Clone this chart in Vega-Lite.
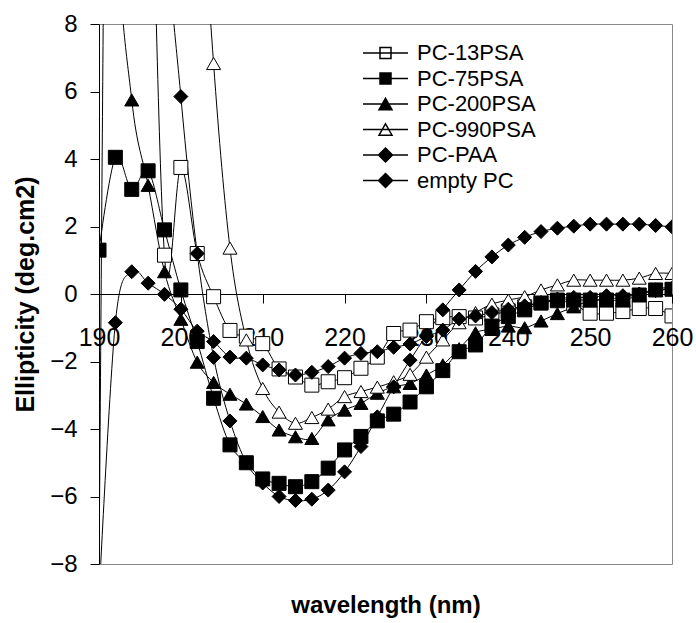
{
  "$schema": "https://vega.github.io/schema/vega-lite/v6.json",
  "width": 573,
  "height": 540,
  "autosize": "none",
  "padding": {"left": 99, "top": 24, "right": 24, "bottom": 59},
  "background": "white",
  "config": {"font": "Liberation Sans", "view": {"stroke": "#888888", "strokeWidth": 1}},
  "datasets": {
    "cd": [
      {"s":"PC-13PSA","x":190,"y":-8.5},{"s":"PC-13PSA","x":192,"y":45},{"s":"PC-13PSA","x":194,"y":40},{"s":"PC-13PSA","x":196,"y":18},{"s":"PC-13PSA","x":198,"y":1.15},{"s":"PC-13PSA","x":200,"y":3.75},{"s":"PC-13PSA","x":202,"y":1.2},{"s":"PC-13PSA","x":204,"y":-0.08},{"s":"PC-13PSA","x":206,"y":-1.08},{"s":"PC-13PSA","x":208,"y":-1.25},{"s":"PC-13PSA","x":210,"y":-1.47},{"s":"PC-13PSA","x":212,"y":-2.22},{"s":"PC-13PSA","x":214,"y":-2.46},{"s":"PC-13PSA","x":216,"y":-2.7},{"s":"PC-13PSA","x":218,"y":-2.6},{"s":"PC-13PSA","x":220,"y":-2.48},{"s":"PC-13PSA","x":222,"y":-2.2},{"s":"PC-13PSA","x":224,"y":-1.87},{"s":"PC-13PSA","x":226,"y":-1.17},{"s":"PC-13PSA","x":228,"y":-1.07},{"s":"PC-13PSA","x":230,"y":-0.82},{"s":"PC-13PSA","x":232,"y":-0.7},{"s":"PC-13PSA","x":234,"y":-0.67},{"s":"PC-13PSA","x":236,"y":-0.71},{"s":"PC-13PSA","x":238,"y":-0.62},{"s":"PC-13PSA","x":240,"y":-0.5},{"s":"PC-13PSA","x":242,"y":-0.38},{"s":"PC-13PSA","x":244,"y":-0.25},{"s":"PC-13PSA","x":246,"y":-0.2},{"s":"PC-13PSA","x":248,"y":-0.3},{"s":"PC-13PSA","x":250,"y":-0.57},{"s":"PC-13PSA","x":252,"y":-0.57},{"s":"PC-13PSA","x":254,"y":-0.52},{"s":"PC-13PSA","x":256,"y":-0.43},{"s":"PC-13PSA","x":258,"y":-0.43},{"s":"PC-13PSA","x":260,"y":-0.65},

      {"s":"PC-75PSA","x":190,"y":1.3},{"s":"PC-75PSA","x":192,"y":4.05},{"s":"PC-75PSA","x":194,"y":3.1},{"s":"PC-75PSA","x":196,"y":3.65},{"s":"PC-75PSA","x":198,"y":1.9},{"s":"PC-75PSA","x":200,"y":0.12},{"s":"PC-75PSA","x":202,"y":-1.41},{"s":"PC-75PSA","x":204,"y":-3.09},{"s":"PC-75PSA","x":206,"y":-4.47},{"s":"PC-75PSA","x":208,"y":-5.0},{"s":"PC-75PSA","x":210,"y":-5.48},{"s":"PC-75PSA","x":212,"y":-5.61},{"s":"PC-75PSA","x":214,"y":-5.71},{"s":"PC-75PSA","x":216,"y":-5.56},{"s":"PC-75PSA","x":218,"y":-5.16},{"s":"PC-75PSA","x":220,"y":-4.62},{"s":"PC-75PSA","x":222,"y":-4.22},{"s":"PC-75PSA","x":224,"y":-3.76},{"s":"PC-75PSA","x":226,"y":-3.56},{"s":"PC-75PSA","x":228,"y":-3.2},{"s":"PC-75PSA","x":230,"y":-2.75},{"s":"PC-75PSA","x":232,"y":-2.27},{"s":"PC-75PSA","x":234,"y":-1.71},{"s":"PC-75PSA","x":236,"y":-1.51},{"s":"PC-75PSA","x":238,"y":-0.95},{"s":"PC-75PSA","x":240,"y":-0.67},{"s":"PC-75PSA","x":242,"y":-0.47},{"s":"PC-75PSA","x":244,"y":-0.27},{"s":"PC-75PSA","x":246,"y":-0.18},{"s":"PC-75PSA","x":248,"y":-0.18},{"s":"PC-75PSA","x":250,"y":-0.18},{"s":"PC-75PSA","x":252,"y":-0.18},{"s":"PC-75PSA","x":254,"y":-0.18},{"s":"PC-75PSA","x":256,"y":-0.03},{"s":"PC-75PSA","x":258,"y":0.12},{"s":"PC-75PSA","x":260,"y":0.14},

      {"s":"PC-200PSA","x":190,"y":30},{"s":"PC-200PSA","x":192,"y":12},{"s":"PC-200PSA","x":194,"y":5.75},{"s":"PC-200PSA","x":196,"y":3.22},{"s":"PC-200PSA","x":198,"y":0.66},{"s":"PC-200PSA","x":200,"y":-0.75},{"s":"PC-200PSA","x":202,"y":-2.02},{"s":"PC-200PSA","x":204,"y":-2.62},{"s":"PC-200PSA","x":206,"y":-2.97},{"s":"PC-200PSA","x":208,"y":-3.26},{"s":"PC-200PSA","x":210,"y":-3.63},{"s":"PC-200PSA","x":212,"y":-4.03},{"s":"PC-200PSA","x":214,"y":-4.23},{"s":"PC-200PSA","x":216,"y":-4.28},{"s":"PC-200PSA","x":218,"y":-3.73},{"s":"PC-200PSA","x":220,"y":-3.44},{"s":"PC-200PSA","x":222,"y":-3.24},{"s":"PC-200PSA","x":224,"y":-2.94},{"s":"PC-200PSA","x":226,"y":-2.75},{"s":"PC-200PSA","x":228,"y":-2.65},{"s":"PC-200PSA","x":230,"y":-2.4},{"s":"PC-200PSA","x":232,"y":-2.1},{"s":"PC-200PSA","x":234,"y":-1.62},{"s":"PC-200PSA","x":236,"y":-1.15},{"s":"PC-200PSA","x":238,"y":-1.05},{"s":"PC-200PSA","x":240,"y":-0.95},{"s":"PC-200PSA","x":242,"y":-1.0},{"s":"PC-200PSA","x":244,"y":-0.8},{"s":"PC-200PSA","x":246,"y":-0.58},{"s":"PC-200PSA","x":248,"y":-0.38},{"s":"PC-200PSA","x":250,"y":-0.2},{"s":"PC-200PSA","x":252,"y":-0.15},{"s":"PC-200PSA","x":254,"y":-0.1},{"s":"PC-200PSA","x":256,"y":0.0},{"s":"PC-200PSA","x":258,"y":0.15},{"s":"PC-200PSA","x":260,"y":0.2},

      {"s":"PC-990PSA","x":196,"y":40},{"s":"PC-990PSA","x":198,"y":38},{"s":"PC-990PSA","x":200,"y":30},{"s":"PC-990PSA","x":202,"y":15},{"s":"PC-990PSA","x":204,"y":6.83},{"s":"PC-990PSA","x":206,"y":1.36},{"s":"PC-990PSA","x":208,"y":-1.36},{"s":"PC-990PSA","x":210,"y":-2.8},{"s":"PC-990PSA","x":212,"y":-3.5},{"s":"PC-990PSA","x":214,"y":-3.83},{"s":"PC-990PSA","x":216,"y":-3.66},{"s":"PC-990PSA","x":218,"y":-3.41},{"s":"PC-990PSA","x":220,"y":-3.04},{"s":"PC-990PSA","x":222,"y":-2.89},{"s":"PC-990PSA","x":224,"y":-2.76},{"s":"PC-990PSA","x":226,"y":-2.6},{"s":"PC-990PSA","x":228,"y":-2.38},{"s":"PC-990PSA","x":230,"y":-1.87},{"s":"PC-990PSA","x":232,"y":-1.36},{"s":"PC-990PSA","x":234,"y":-0.85},{"s":"PC-990PSA","x":236,"y":-0.55},{"s":"PC-990PSA","x":238,"y":-0.3},{"s":"PC-990PSA","x":240,"y":-0.18},{"s":"PC-990PSA","x":242,"y":-0.08},{"s":"PC-990PSA","x":244,"y":0.12},{"s":"PC-990PSA","x":246,"y":0.27},{"s":"PC-990PSA","x":248,"y":0.41},{"s":"PC-990PSA","x":250,"y":0.41},{"s":"PC-990PSA","x":252,"y":0.41},{"s":"PC-990PSA","x":254,"y":0.41},{"s":"PC-990PSA","x":256,"y":0.47},{"s":"PC-990PSA","x":258,"y":0.61},{"s":"PC-990PSA","x":260,"y":0.61},

      {"s":"PC-PAA","x":194,"y":40},{"s":"PC-PAA","x":196,"y":25},{"s":"PC-PAA","x":198,"y":12},{"s":"PC-PAA","x":200,"y":5.85},{"s":"PC-PAA","x":202,"y":1.2},{"s":"PC-PAA","x":204,"y":-1.88},{"s":"PC-PAA","x":206,"y":-3.76},{"s":"PC-PAA","x":208,"y":-5.0},{"s":"PC-PAA","x":210,"y":-5.6},{"s":"PC-PAA","x":212,"y":-6.0},{"s":"PC-PAA","x":214,"y":-6.12},{"s":"PC-PAA","x":216,"y":-6.08},{"s":"PC-PAA","x":218,"y":-5.81},{"s":"PC-PAA","x":220,"y":-5.27},{"s":"PC-PAA","x":222,"y":-4.52},{"s":"PC-PAA","x":224,"y":-3.64},{"s":"PC-PAA","x":226,"y":-2.75},{"s":"PC-PAA","x":228,"y":-1.96},{"s":"PC-PAA","x":230,"y":-1.22},{"s":"PC-PAA","x":232,"y":-0.47},{"s":"PC-PAA","x":234,"y":0.12},{"s":"PC-PAA","x":236,"y":0.67},{"s":"PC-PAA","x":238,"y":1.1},{"s":"PC-PAA","x":240,"y":1.45},{"s":"PC-PAA","x":242,"y":1.68},{"s":"PC-PAA","x":244,"y":1.85},{"s":"PC-PAA","x":246,"y":1.95},{"s":"PC-PAA","x":248,"y":2.01},{"s":"PC-PAA","x":250,"y":2.07},{"s":"PC-PAA","x":252,"y":2.07},{"s":"PC-PAA","x":254,"y":2.07},{"s":"PC-PAA","x":256,"y":2.07},{"s":"PC-PAA","x":258,"y":2.03},{"s":"PC-PAA","x":260,"y":1.99},

      {"s":"empty PC","x":190,"y":-9},{"s":"empty PC","x":192,"y":-0.85},{"s":"empty PC","x":194,"y":0.66},{"s":"empty PC","x":196,"y":0.32},{"s":"empty PC","x":198,"y":-0.01},{"s":"empty PC","x":200,"y":-0.45},{"s":"empty PC","x":202,"y":-1.1},{"s":"empty PC","x":204,"y":-1.41},{"s":"empty PC","x":206,"y":-1.87},{"s":"empty PC","x":208,"y":-1.9},{"s":"empty PC","x":210,"y":-2.1},{"s":"empty PC","x":212,"y":-2.25},{"s":"empty PC","x":214,"y":-2.4},{"s":"empty PC","x":216,"y":-2.32},{"s":"empty PC","x":218,"y":-2.15},{"s":"empty PC","x":220,"y":-1.9},{"s":"empty PC","x":222,"y":-1.76},{"s":"empty PC","x":224,"y":-1.71},{"s":"empty PC","x":226,"y":-1.58},{"s":"empty PC","x":228,"y":-1.48},{"s":"empty PC","x":230,"y":-1.26},{"s":"empty PC","x":232,"y":-1.07},{"s":"empty PC","x":234,"y":-0.74},{"s":"empty PC","x":236,"y":-0.65},{"s":"empty PC","x":238,"y":-0.55},{"s":"empty PC","x":240,"y":-0.45},{"s":"empty PC","x":242,"y":-0.35},{"s":"empty PC","x":244,"y":-0.25},{"s":"empty PC","x":246,"y":-0.15},{"s":"empty PC","x":248,"y":-0.1},{"s":"empty PC","x":250,"y":-0.1},{"s":"empty PC","x":252,"y":-0.05},{"s":"empty PC","x":254,"y":-0.05},{"s":"empty PC","x":256,"y":0.0},{"s":"empty PC","x":258,"y":0.1},{"s":"empty PC","x":260,"y":0.15}
    ]
  },
  "data": {"name": "cd"},
  "encoding": {
    "x": {
      "field": "x", "type": "quantitative",
      "scale": {"domain": [190, 260], "nice": false, "zero": false},
      "axis": {
        "values": [190, 200, 210, 220, 230, 240, 250, 260],
        "offset": -270, "tickSize": 9, "labelPadding": 22, "labelFontSize": 25,
        "labelColor": "black", "domainColor": "black", "tickColor": "black",
        "labelFlush": false, "labelOverlap": false, "grid": false,
        "title": "wavelength (nm)", "titleFontSize": 24, "titleFontWeight": "bold", "titleColor": "black",
        "titleX": 286.5, "titleY": 311, "titleBaseline": "middle"
      }
    },
    "y": {
      "field": "y", "type": "quantitative",
      "scale": {"domain": [-8, 8], "nice": false, "zero": false},
      "axis": {
        "values": [-8, -6, -4, -2, 0, 2, 4, 6, 8],
        "tickSize": 9, "labelPadding": 13, "labelFontSize": 24,
        "labelColor": "black", "domainColor": "black", "tickColor": "black",
        "labelFlush": false, "labelOverlap": false, "grid": false,
        "title": "Ellipticity (deg.cm2)", "titleFontSize": 25, "titleFontWeight": "bold", "titleColor": "black",
        "titleX": -74, "titleY": 270, "titleAngle": -90, "titleBaseline": "middle", "titleAlign": "center"
      }
    }
  },
  "layer": [
    {
      "mark": {"type": "line", "color": "black", "strokeWidth": 1, "interpolate": "cardinal", "clip": true},
      "encoding": {"detail": {"field": "s"}}
    },
    {
      "mark": {"type": "point", "filled": true, "stroke": "black", "strokeWidth": 1, "opacity": 1, "size": 196, "clip": true},
      "encoding": {
        "shape": {
          "field": "s", "type": "nominal",
          "scale": {"domain": ["PC-13PSA", "PC-75PSA", "PC-200PSA", "PC-990PSA", "PC-PAA", "empty PC"],
                    "range": ["square", "square", "triangle-up", "triangle-up", "diamond", "diamond"]},
          "legend": null
        },
        "fill": {
          "field": "s", "type": "nominal",
          "scale": {"domain": ["PC-13PSA", "PC-75PSA", "PC-200PSA", "PC-990PSA", "PC-PAA", "empty PC"],
                    "range": ["white", "black", "black", "white", "black", "black"]},
          "legend": null
        }
      }
    },
    {
      "transform": [{"filter": "false"}],
      "mark": {"type": "point", "filled": true, "stroke": "black", "strokeWidth": 1, "opacity": 1, "size": 100},
      "encoding": {
        "shape": {
          "field": "s", "type": "nominal",
          "scale": {"domain": ["PC-13PSA", "PC-75PSA", "PC-200PSA", "PC-990PSA", "PC-PAA", "empty PC"],
                    "range": ["M-8,0H1M-4.6,-1.1H-2.4V1.1H-4.6Z", "M-8,0H1M-4.6,-1.1H-2.4V1.1H-4.6Z",
                              "M-8,0H1M-3.5,-1.13L-2.2,1.13L-4.8,1.13Z", "M-8,0H1M-3.5,-1.13L-2.2,1.13L-4.8,1.13Z",
                              "M-8,0H1M-3.5,-1.4L-2.1,0L-3.5,1.4L-4.9,0Z", "M-8,0H1M-3.5,-1.4L-2.1,0L-3.5,1.4L-4.9,0Z"]},
          "legend": {
            "orient": "none", "legendX": 293, "legendY": 18, "title": null, "padding": 0,
            "labelFontSize": 22, "labelColor": "black", "labelOffset": 3, "rowPadding": 3.5,
            "symbolSize": 100,
            "encode": {"symbols": {"stroke": {"value": "black"}, "strokeWidth": {"value": 1}, "opacity": {"value": 1}}}
          }
        },
        "fill": {
          "field": "s", "type": "nominal",
          "scale": {"domain": ["PC-13PSA", "PC-75PSA", "PC-200PSA", "PC-990PSA", "PC-PAA", "empty PC"],
                    "range": ["white", "black", "black", "white", "black", "black"]},
          "legend": {
            "orient": "none", "legendX": 293, "legendY": 18, "title": null, "padding": 0,
            "labelFontSize": 22, "labelColor": "black", "labelOffset": 3, "rowPadding": 3.5,
            "symbolSize": 100,
            "encode": {"symbols": {"stroke": {"value": "black"}, "strokeWidth": {"value": 1}, "opacity": {"value": 1}}}
          }
        }
      }
    }
  ],
  "resolve": {
    "scale": {"shape": "independent", "fill": "independent"},
    "legend": {"shape": "independent", "fill": "independent"}
  }
}
